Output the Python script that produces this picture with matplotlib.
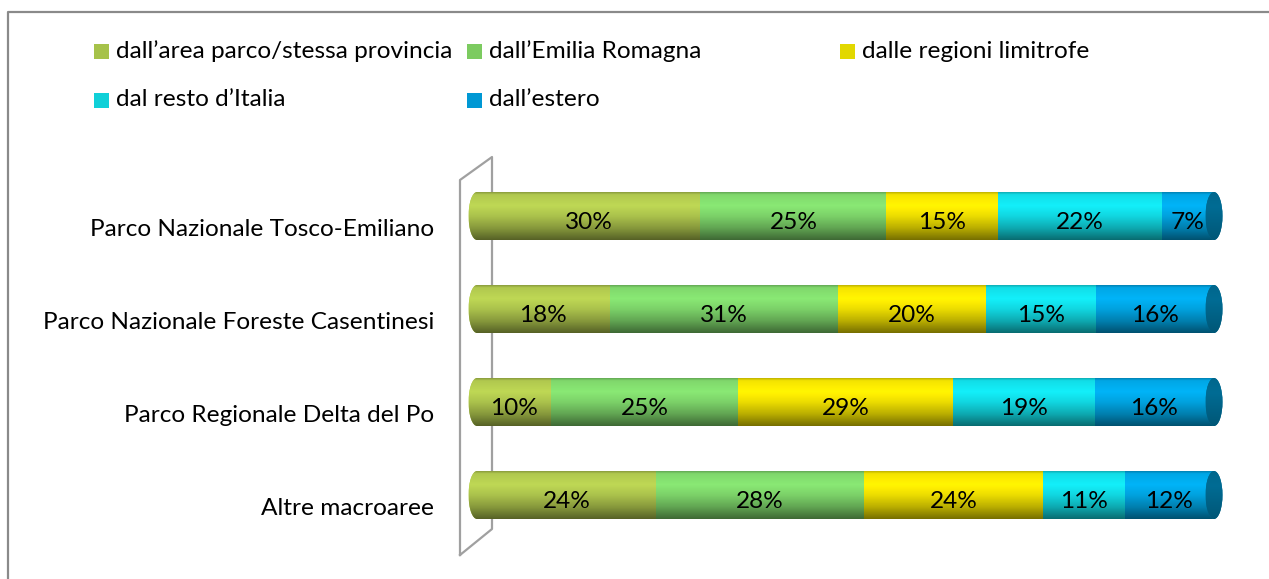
import numpy as np
import matplotlib.pyplot as plt
from matplotlib.patches import Ellipse, Rectangle
from matplotlib.lines import Line2D

plt.rcParams['font.family'] = ['Lato', 'DejaVu Sans']

parks = ['Parco Nazionale Tosco-Emiliano', 'Parco Nazionale Foreste Casentinesi',
         'Parco Regionale Delta del Po', 'Altre macroaree']
origins = ['dall\u2019area parco/stessa provincia', 'dall\u2019Emilia Romagna',
           'dalle regioni limitrofe', 'dal resto d\u2019Italia', 'dall\u2019estero']

area_parco = [30, 18, 10, 24]
emilia = [25, 31, 25, 28]
limitrofe = [15, 20, 29, 24]
resto_italia = [22, 15, 19, 11]
estero = [7, 16, 16, 12]

series = [area_parco, emilia, limitrofe, resto_italia, estero]
bar_colors = ['#b4cc50', '#82dc6e', '#f8e800', '#12e2ec', '#00aaea']
legend_colors = ['#a6c24a', '#7ccb60', '#e2d800', '#10d0d8', '#0098d4']
cap_color = '#006c94'
fs = 17.6

W, H = 1269, 579
fig = plt.figure(figsize=(W / 100, H / 100), dpi=100)


def fx(x):
    return x / W


def fy(y):
    return 1 - y / H


# plotting area (pixels): 0% at x=477, 100% at x=1214, rows every 93 px
px_per = 737 / 100
xl = (-(477 - 466) / px_per, 100 + (1226 - 1214) / px_per)
yl = ((555 - 216) / 93, (160 - 216) / 93)
ax = fig.add_axes([fx(466), fy(555), 760 / W, 395 / H])
ax.patch.set_visible(False)
ax.axis('off')

data = np.array(series, dtype=float)
share = data / data.sum(axis=0) * 100
ypos = np.arange(len(parks))
bh = 0.516
cap_w = 2.3

# shading profile top -> bottom
t = np.linspace(0, 1, 80)
prof = np.interp(t, [0, 0.05, 0.28, 0.5, 0.75, 1.0], [0.78, 0.98, 1.06, 0.95, 0.75, 0.48])


def shaded(color, p=prof):
    c = np.array(plt.matplotlib.colors.to_rgb(color))
    img = np.clip(c[None, :] * p[:, None], 0, 1)
    return img[:, None, :]


# left caps (back side of the cylinder)
for i in ypos:
    e = Ellipse((0, i), cap_w, bh, facecolor=bar_colors[0], edgecolor='none', zorder=1)
    ax.add_patch(e)
    im = ax.imshow(shaded(bar_colors[0]), extent=[-cap_w / 2, 0.5, i + bh / 2, i - bh / 2],
                   aspect='auto', zorder=1.5, interpolation='bilinear')
    im.set_clip_path(e)

left = np.zeros(len(parks))
for k, vals in enumerate(share):
    bars = ax.barh(ypos, vals, left=left, height=bh, color=bar_colors[k], zorder=2)
    for j, b in enumerate(bars):
        x0, w = b.get_x(), b.get_width()
        im = ax.imshow(shaded(bar_colors[k]), extent=[x0, x0 + w, ypos[j] + bh / 2, ypos[j] - bh / 2],
                       aspect='auto', zorder=2.5, interpolation='bilinear')
        im.set_clip_path(b)
        ax.text(x0 + w / 2, ypos[j] + 0.075, f'{series[k][j]}%', ha='center', va='center',
                fontsize=fs, color='black', zorder=5)
    left = left + vals

# right caps
cap_prof = np.interp(t, [0, 0.3, 1.0], [0.95, 1.0, 0.8])
for i, end in zip(ypos, left):
    e = Ellipse((end, i), cap_w, bh, facecolor=cap_color, edgecolor='none', zorder=3)
    ax.add_patch(e)
    im = ax.imshow(shaded(cap_color, cap_prof),
                   extent=[end - cap_w / 2, end + cap_w / 2, i + bh / 2, i - bh / 2],
                   aspect='auto', zorder=3.5, interpolation='bilinear')
    im.set_clip_path(e)

ax.set_xlim(*xl)
ax.set_ylim(*yl)

# category labels
for i, name in enumerate(parks):
    ax.text((434 - 477) / px_per, i + 0.14, name, ha='right', va='center', fontsize=fs,
            color='black', clip_on=False)

# back wall of the 3d plot
wall_x = [460, 460, 492, 492, 460]
wall_y = [555, 180, 157, 529, 555]
fig.add_artist(Line2D([fx(v) for v in wall_x], [fy(v) for v in wall_y],
                      color='#a0a0a0', lw=1.6, zorder=-1))

# outer frame
fig.add_artist(Line2D([fx(8), fx(8), fx(W)], [fy(H), fy(12), fy(12)],
                      color='#8a8a8a', lw=1.6, zorder=10))

# legend (row-wise, three columns)
leg_x = [94, 467, 840]
leg_y = [51.5, 100]
for k, lab in enumerate(origins):
    col, row = k % 3, k // 3
    x0, yc = leg_x[col], leg_y[row]
    fig.add_artist(Rectangle((fx(x0), fy(yc + 7.5)), 15 / W, 15 / H,
                             facecolor=legend_colors[k], edgecolor='none'))
    fig.text(fx(x0 + 22), fy(yc), lab, ha='left', va='center', fontsize=fs, color='black')

fig.savefig('out.png', dpi=100, facecolor='white')
